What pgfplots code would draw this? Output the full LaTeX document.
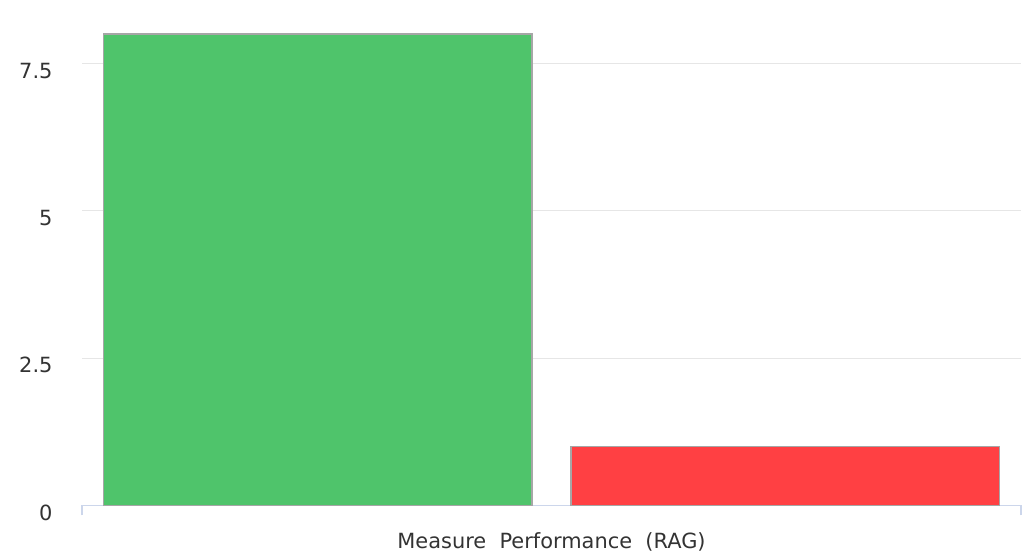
\documentclass[border=0pt]{standalone}
\usepackage{pgfplots}
\pgfplotsset{compat=1.18}
\usepackage{fontspec}
\setmainfont{DejaVu Sans}

\definecolor{ragGreen}{HTML}{4FC46B}
\definecolor{ragRed}{HTML}{FF4043}
\definecolor{barEdge}{HTML}{A6A6A6}
\definecolor{gridGray}{HTML}{E6E6E6}
\definecolor{axisBlue}{HTML}{CCD6EB}
\definecolor{labelGray}{HTML}{333333}

\begin{document}
\begin{tikzpicture}[x=1bp,y=1bp]
\useasboundingbox (0,0) rectangle (1033,558);
\begin{axis}[
  at={(82bp,52.5bp)}, anchor=south west,
  scale only axis,
  width=939bp, height=495bp,
  xmin=-0.5, xmax=0.5,
  ymin=0, ymax=8.4,
  axis x line*=bottom,
  axis y line*=left,
  y axis line style={draw=none},
  x axis line style={draw=axisBlue, line width=1.2bp},
  xtick={-0.5,0.5}, xticklabels={},
  x tick style={draw=axisBlue, line width=1.2bp},
  major tick length=10bp,
  tick align=outside,
  ytick={0,2.5,5,7.5},
  yticklabels={0,2.5,5,7.5},
  y tick style={draw=none},
  ymajorgrids,
  grid style={draw=gridGray, line width=1.2bp},
  yticklabel style={font=\fontsize{21}{25}\selectfont, text=labelGray, anchor=east, xshift=-16bp, yshift=-7bp},
  xlabel={Measure\ \ Performance\ \ (RAG)},
  xlabel style={font=\fontsize{21}{25}\selectfont, text=labelGray, at={(axis description cs:0.5,0)}, anchor=center, yshift=-36bp},
  ybar, bar shift=0pt,
  clip=false,
]
\addplot[ybar, bar width=0.456, fill=ragGreen, draw=barEdge, line width=1.5bp]
  coordinates {(-0.249,8)};
\addplot[ybar, bar width=0.456, fill=ragRed, draw=barEdge, line width=1.5bp]
  coordinates {(0.249,1)};
\end{axis}
\end{tikzpicture}
\end{document}
